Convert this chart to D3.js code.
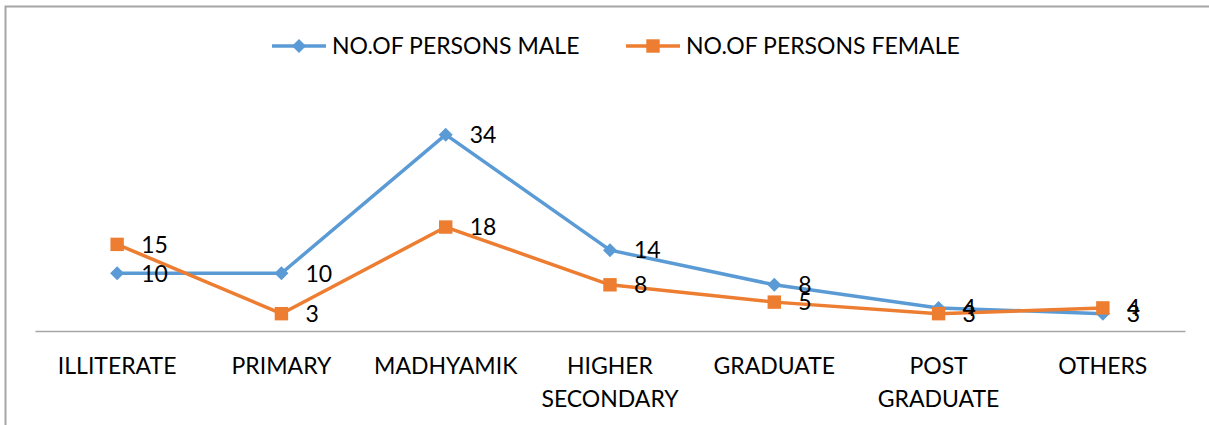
<!DOCTYPE html>
<html>
<head>
<meta charset="utf-8">
<script src="https://cdn.jsdelivr.net/npm/d3@7"></script>
<style>
  body { margin: 0; background: #fff; }
  text { font-family: Lato, "Open Sans", sans-serif; fill: #000; }
</style>
</head>
<body>
<script>
const categories = ['ILLITERATE', 'PRIMARY', 'MADHYAMIK', 'HIGHER SECONDARY', 'GRADUATE', 'POST GRADUATE', 'OTHERS'];
const male = [10, 10, 34, 14, 8, 4, 3];
const female = [15, 3, 18, 8, 5, 3, 4];
const seriesNames = ['NO.OF PERSONS MALE', 'NO.OF PERSONS FEMALE'];

const width = 1209;
const height = 425;

const svg = d3.select('body').append('svg')
  .attr('width', width)
  .attr('height', height);

// chart frame
svg.append('rect')
  .attr('x', 5.5).attr('y', 6.5)
  .attr('width', 1220).attr('height', 440)
  .attr('fill', 'none')
  .attr('stroke', '#a6a6a6')
  .attr('stroke-width', 2);

const x = d3.scaleBand()
  .domain(categories)
  .range([35, 1185]);

const y = d3.scaleLinear()
  .domain([0, 40])
  .range([331, 100]);

// excel style diamond: a square turned 45 degrees
const diamond = {
  draw(ctx, size) {
    const r = Math.sqrt(size / 2);
    ctx.moveTo(0, -r);
    ctx.lineTo(r, 0);
    ctx.lineTo(0, r);
    ctx.lineTo(-r, 0);
    ctx.closePath();
  }
};

const series = [
  { name: seriesNames[0], values: male, color: '#5B9BD5', marker: diamond, size: 98 },
  { name: seriesNames[1], values: female, color: '#ED7D31', marker: d3.symbolSquare, size: 180 }
];

// x axis
const xAxis = svg.append('g')
  .attr('transform', `translate(0,${y(0)})`)
  .call(d3.axisBottom(x).tickSize(0).tickFormat(''));
xAxis.select('.domain').attr('stroke', '#a6a6a6').attr('stroke-width', 1.5);

const labels = svg.append('g');
categories.forEach(c => {
  const words = c.split(' ');
  const t = labels.append('text')
    .attr('x', x(c) + x.bandwidth() / 2)
    .attr('y', 374)
    .attr('text-anchor', 'middle')
    .attr('font-size', 23);
  words.forEach((w, i) => {
    t.append('tspan')
      .attr('x', x(c) + x.bandwidth() / 2)
      .attr('dy', i === 0 ? 0 : 33)
      .text(w);
  });
});

const line = d3.line()
  .x((d, i) => x(categories[i]) + x.bandwidth() / 2)
  .y(d => y(d));

series.forEach(s => {
  const g = svg.append('g');
  g.append('path')
    .datum(s.values)
    .attr('d', line)
    .attr('fill', 'none')
    .attr('stroke', s.color)
    .attr('stroke-width', 3.5)
    .attr('stroke-linejoin', 'round');
  g.selectAll('.pt')
    .data(s.values)
    .enter().append('path')
    .attr('d', d3.symbol().type(s.marker).size(s.size))
    .attr('fill', s.color)
    .attr('transform', (d, i) => `translate(${x(categories[i]) + x.bandwidth() / 2},${y(d)})`);
});

// data labels drawn above the lines
series.forEach(s => {
  svg.append('g').selectAll('text')
    .data(s.values)
    .enter().append('text')
    .attr('x', (d, i) => x(categories[i]) + x.bandwidth() / 2 + 24)
    .attr('y', d => y(d))
    .attr('dy', '0.36em')
    .attr('font-size', 23)
    .text(d => d);
});

// legend
const legendX = [272, 626];
series.forEach((s, i) => {
  const g = svg.append('g').attr('transform', `translate(${legendX[i]},46)`);
  g.append('line')
    .attr('x1', 0).attr('x2', 54)
    .attr('stroke', s.color).attr('stroke-width', 3.5);
  g.append('path')
    .attr('d', d3.symbol().type(s.marker).size(s.size))
    .attr('fill', s.color)
    .attr('transform', 'translate(27,0)');
  g.append('text')
    .attr('x', 60)
    .attr('dy', '0.36em')
    .attr('font-size', 23)
    .text(s.name);
});
</script>
</body>
</html>
